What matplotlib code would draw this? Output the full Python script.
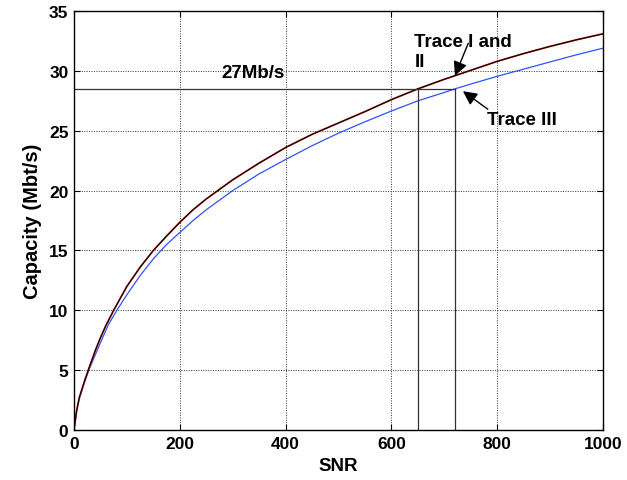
import matplotlib
matplotlib.use("Agg")
import matplotlib.pyplot as plt

plt.rcParams['font.family'] = ['Liberation Sans', 'DejaVu Sans']
plt.rcParams['font.weight'] = 'bold'

snr_12 = [0, 5, 10, 20, 27, 40, 50, 60, 75, 90, 100, 125, 150, 175, 200, 225, 250, 300, 350,
          400, 450, 500, 550, 600, 650, 700, 750, 800, 850, 900, 950, 1000]
trace_1 = [0, 1.6, 2.7, 4.1, 5.0, 6.6, 7.7, 8.7, 10.0, 11.2, 12.0, 13.6, 15.0, 16.2, 17.35,
           18.4, 19.3, 20.9, 22.3, 23.6, 24.7, 25.65, 26.6, 27.6, 28.5, 29.3, 30.05, 30.8,
           31.45, 32.05, 32.6, 33.1]
trace_2 = [0, 1.6, 2.7, 4.1, 5.0, 6.6, 7.7, 8.7, 10.0, 11.2, 12.0, 13.6, 15.0, 16.2, 17.35,
           18.4, 19.3, 20.9, 22.3, 23.6, 24.7, 25.65, 26.6, 27.6, 28.5, 29.3, 30.05, 30.8,
           31.45, 32.05, 32.6, 33.1]

snr_3 = [0, 5, 10, 20, 30, 50, 65, 81, 100, 125, 150, 175, 200, 225, 250, 300, 350, 400, 450,
         500, 550, 600, 650, 700, 720, 750, 800, 850, 900, 950, 1000]
trace_3 = [0, 1.6, 2.6, 4.0, 5.2, 7.3, 8.8, 10.0, 11.3, 12.9, 14.3, 15.5, 16.5, 17.5, 18.4,
           20.0, 21.4, 22.6, 23.75, 24.8, 25.75, 26.65, 27.5, 28.2, 28.5, 28.9, 29.55, 30.15,
           30.75, 31.35, 31.9]

target_rate = 28.5
snr_marks = [650, 720]

fig = plt.figure(figsize=(6.27, 4.81), dpi=100)
ax = fig.add_axes([0.118, 0.104, 0.844, 0.871])

ax.plot(snr_3, trace_3, color='#3050ff', lw=0.9)
ax.plot(snr_12, trace_1, color='#e03020', lw=1.3)
ax.plot(snr_12, trace_2, color='black', lw=0.8)

ax.plot([0, snr_marks[1]], [target_rate, target_rate], color='#333333', lw=0.9)
for s in snr_marks:
    ax.plot([s, s], [0, target_rate], color='#333333', lw=0.9)

ax.set_xlim(0, 1000)
ax.set_ylim(0, 35)
ax.set_xticks([0, 200, 400, 600, 800, 1000])
ax.set_yticks([0, 5, 10, 15, 20, 25, 30, 35])
ax.grid(True, linestyle=(0, (1, 1.5)), color='#333333', lw=0.7)
ax.tick_params(direction='in', top=True, right=True, labelsize=12.5, length=4, pad=4)
for lab in ax.get_xticklabels() + ax.get_yticklabels():
    lab.set_fontweight('bold')
for sp in ax.spines.values():
    sp.set_linewidth(1.0)

ax.set_xlabel('SNR', fontsize=13.5, fontweight='bold', labelpad=5)
ax.set_ylabel('Capacity (Mbt/s)', fontsize=14.5, fontweight='bold', labelpad=5)

ax.text(278, 29.85, '27Mb/s', fontsize=13.5, fontweight='bold', va='center', ha='left')
ax.text(643, 31.6, 'Trace I and\nII', fontsize=13.5, fontweight='bold', va='center', ha='left',
        linespacing=1.2)
ax.text(781, 25.9, 'Trace III', fontsize=13.5, fontweight='bold', va='center', ha='left')

ax.annotate('', xy=(720, 29.6), xytext=(745, 32.3),
            arrowprops=dict(arrowstyle='-|>,head_length=0.6,head_width=0.3', color='black',
                            lw=1.0, mutation_scale=14, shrinkA=0, shrinkB=0))
ax.annotate('', xy=(735, 28.3), xytext=(782, 26.8),
            arrowprops=dict(arrowstyle='-|>,head_length=0.6,head_width=0.3', color='black',
                            lw=1.0, mutation_scale=14, shrinkA=0, shrinkB=0))

fig.savefig('out.png', dpi=100)
